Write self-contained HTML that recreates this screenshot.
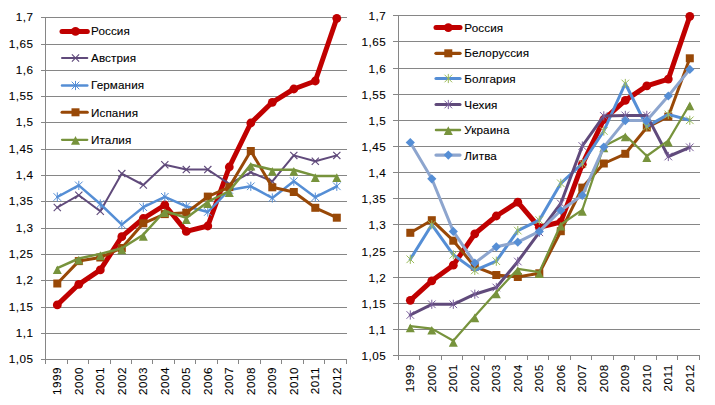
<!DOCTYPE html>
<html><head><meta charset="utf-8">
<style>
html,body{margin:0;padding:0;background:#fff;}
body{width:715px;height:405px;overflow:hidden;position:relative;}
svg{position:absolute;left:0;top:0;display:block;}
text{font-family:"Liberation Sans",sans-serif;font-size:11.7px;fill:#000;letter-spacing:0.5px;stroke:#000;stroke-width:0.1px;}
</style></head><body>
<svg width="715" height="405" viewBox="0 0 715 405">
<rect x="41" y="17" width="306" height="1" fill="#868686"/>
<text x="33.6" y="21.3" text-anchor="end">1,7</text>
<rect x="41" y="44" width="306" height="1" fill="#868686"/>
<text x="33.6" y="48.3" text-anchor="end">1,65</text>
<rect x="41" y="70" width="306" height="1" fill="#868686"/>
<text x="33.6" y="74.3" text-anchor="end">1,6</text>
<rect x="41" y="96" width="306" height="1" fill="#868686"/>
<text x="33.6" y="100.3" text-anchor="end">1,55</text>
<rect x="41" y="122" width="306" height="1" fill="#868686"/>
<text x="33.6" y="126.3" text-anchor="end">1,5</text>
<rect x="41" y="149" width="306" height="1" fill="#868686"/>
<text x="33.6" y="153.3" text-anchor="end">1,45</text>
<rect x="41" y="175" width="306" height="1" fill="#868686"/>
<text x="33.6" y="179.3" text-anchor="end">1,4</text>
<rect x="41" y="201" width="306" height="1" fill="#868686"/>
<text x="33.6" y="205.3" text-anchor="end">1,35</text>
<rect x="41" y="228" width="306" height="1" fill="#868686"/>
<text x="33.6" y="232.3" text-anchor="end">1,3</text>
<rect x="41" y="254" width="306" height="1" fill="#868686"/>
<text x="33.6" y="258.3" text-anchor="end">1,25</text>
<rect x="41" y="280" width="306" height="1" fill="#868686"/>
<text x="33.6" y="284.3" text-anchor="end">1,2</text>
<rect x="41" y="307" width="306" height="1" fill="#868686"/>
<text x="33.6" y="311.3" text-anchor="end">1,15</text>
<rect x="41" y="333" width="306" height="1" fill="#868686"/>
<text x="33.6" y="337.3" text-anchor="end">1,1</text>
<rect x="41" y="359" width="306" height="1" fill="#868686"/>
<text x="33.6" y="363.3" text-anchor="end">1,05</text>
<rect x="45" y="17" width="1" height="343" fill="#868686"/>
<rect x="45" y="359" width="1" height="5" fill="#868686"/>
<rect x="67" y="359" width="1" height="5" fill="#868686"/>
<rect x="88" y="359" width="1" height="5" fill="#868686"/>
<rect x="110" y="359" width="1" height="5" fill="#868686"/>
<rect x="131" y="359" width="1" height="5" fill="#868686"/>
<rect x="152" y="359" width="1" height="5" fill="#868686"/>
<rect x="174" y="359" width="1" height="5" fill="#868686"/>
<rect x="195" y="359" width="1" height="5" fill="#868686"/>
<rect x="217" y="359" width="1" height="5" fill="#868686"/>
<rect x="238" y="359" width="1" height="5" fill="#868686"/>
<rect x="260" y="359" width="1" height="5" fill="#868686"/>
<rect x="281" y="359" width="1" height="5" fill="#868686"/>
<rect x="303" y="359" width="1" height="5" fill="#868686"/>
<rect x="324" y="359" width="1" height="5" fill="#868686"/>
<rect x="346" y="359" width="1" height="5" fill="#868686"/>
<text transform="translate(61,367) rotate(-90)" text-anchor="end">1999</text>
<text transform="translate(82.5,367) rotate(-90)" text-anchor="end">2000</text>
<text transform="translate(104,367) rotate(-90)" text-anchor="end">2001</text>
<text transform="translate(125.5,367) rotate(-90)" text-anchor="end">2002</text>
<text transform="translate(147,367) rotate(-90)" text-anchor="end">2003</text>
<text transform="translate(168.5,367) rotate(-90)" text-anchor="end">2004</text>
<text transform="translate(190,367) rotate(-90)" text-anchor="end">2005</text>
<text transform="translate(211.5,367) rotate(-90)" text-anchor="end">2006</text>
<text transform="translate(233,367) rotate(-90)" text-anchor="end">2007</text>
<text transform="translate(254.5,367) rotate(-90)" text-anchor="end">2008</text>
<text transform="translate(276,367) rotate(-90)" text-anchor="end">2009</text>
<text transform="translate(297.5,367) rotate(-90)" text-anchor="end">2010</text>
<text transform="translate(319,367) rotate(-90)" text-anchor="end">2011</text>
<text transform="translate(340.5,367) rotate(-90)" text-anchor="end">2012</text>
<polyline points="57.3,304.9 78.8,284.3 100.3,269.9 121.8,236.7 143.3,218.5 164.8,205 186.3,231.4 207.8,226 229.3,167 250.8,123 272.3,102.3 293.8,89 315.3,81 336.8,18.3" fill="none" stroke="#C00000" stroke-width="5" stroke-linejoin="round" stroke-linecap="round"/>
<circle cx="57.3" cy="304.9" r="4.4" fill="#C00000"/>
<circle cx="78.8" cy="284.3" r="4.4" fill="#C00000"/>
<circle cx="100.3" cy="269.9" r="4.4" fill="#C00000"/>
<circle cx="121.8" cy="236.7" r="4.4" fill="#C00000"/>
<circle cx="143.3" cy="218.5" r="4.4" fill="#C00000"/>
<circle cx="164.8" cy="205" r="4.4" fill="#C00000"/>
<circle cx="186.3" cy="231.4" r="4.4" fill="#C00000"/>
<circle cx="207.8" cy="226" r="4.4" fill="#C00000"/>
<circle cx="229.3" cy="167" r="4.4" fill="#C00000"/>
<circle cx="250.8" cy="123" r="4.4" fill="#C00000"/>
<circle cx="272.3" cy="102.3" r="4.4" fill="#C00000"/>
<circle cx="293.8" cy="89" r="4.4" fill="#C00000"/>
<circle cx="315.3" cy="81" r="4.4" fill="#C00000"/>
<circle cx="336.8" cy="18.3" r="4.4" fill="#C00000"/>
<polyline points="57.3,207.5 78.8,195.2 100.3,211.3 121.8,173.6 143.3,185 164.8,164.8 186.3,169.6 207.8,169.6 229.3,184 250.8,172.3 272.3,181.4 293.8,155.4 315.3,161.2 336.8,155.4" fill="none" stroke="#604A7B" stroke-width="2" stroke-linejoin="round" stroke-linecap="round"/>
<path d="M53.7 203.9L60.9 211.1M53.7 211.1L60.9 203.9" stroke="#604A7B" stroke-width="1.15" fill="none"/>
<path d="M75.2 191.6L82.4 198.8M75.2 198.8L82.4 191.6" stroke="#604A7B" stroke-width="1.15" fill="none"/>
<path d="M96.7 207.7L103.9 214.9M96.7 214.9L103.9 207.7" stroke="#604A7B" stroke-width="1.15" fill="none"/>
<path d="M118.2 170L125.4 177.2M118.2 177.2L125.4 170" stroke="#604A7B" stroke-width="1.15" fill="none"/>
<path d="M139.7 181.4L146.9 188.6M139.7 188.6L146.9 181.4" stroke="#604A7B" stroke-width="1.15" fill="none"/>
<path d="M161.2 161.2L168.4 168.4M161.2 168.4L168.4 161.2" stroke="#604A7B" stroke-width="1.15" fill="none"/>
<path d="M182.7 166L189.9 173.2M182.7 173.2L189.9 166" stroke="#604A7B" stroke-width="1.15" fill="none"/>
<path d="M204.2 166L211.4 173.2M204.2 173.2L211.4 166" stroke="#604A7B" stroke-width="1.15" fill="none"/>
<path d="M225.7 180.4L232.9 187.6M225.7 187.6L232.9 180.4" stroke="#604A7B" stroke-width="1.15" fill="none"/>
<path d="M247.2 168.7L254.4 175.9M247.2 175.9L254.4 168.7" stroke="#604A7B" stroke-width="1.15" fill="none"/>
<path d="M268.7 177.8L275.9 185M268.7 185L275.9 177.8" stroke="#604A7B" stroke-width="1.15" fill="none"/>
<path d="M290.2 151.8L297.4 159M290.2 159L297.4 151.8" stroke="#604A7B" stroke-width="1.15" fill="none"/>
<path d="M311.7 157.6L318.9 164.8M311.7 164.8L318.9 157.6" stroke="#604A7B" stroke-width="1.15" fill="none"/>
<path d="M333.2 151.8L340.4 159M333.2 159L340.4 151.8" stroke="#604A7B" stroke-width="1.15" fill="none"/>
<polyline points="57.3,197 78.8,185.4 100.3,204 121.8,224.6 143.3,207.2 164.8,196.8 186.3,206.3 207.8,212 229.3,190 250.8,186.3 272.3,198 293.8,181.2 315.3,197.2 336.8,186.3" fill="none" stroke="#558ED5" stroke-width="2.5" stroke-linejoin="round" stroke-linecap="round"/>
<path d="M53.5 193.2L61.1 200.8M53.5 200.8L61.1 193.2M57.3 192.4L57.3 201.6" stroke="#558ED5" stroke-width="1.0" fill="none"/>
<path d="M75 181.6L82.6 189.2M75 189.2L82.6 181.6M78.8 180.8L78.8 190" stroke="#558ED5" stroke-width="1.0" fill="none"/>
<path d="M96.5 200.2L104.1 207.8M96.5 207.8L104.1 200.2M100.3 199.4L100.3 208.6" stroke="#558ED5" stroke-width="1.0" fill="none"/>
<path d="M118 220.8L125.6 228.4M118 228.4L125.6 220.8M121.8 220L121.8 229.2" stroke="#558ED5" stroke-width="1.0" fill="none"/>
<path d="M139.5 203.4L147.1 211M139.5 211L147.1 203.4M143.3 202.6L143.3 211.8" stroke="#558ED5" stroke-width="1.0" fill="none"/>
<path d="M161 193L168.6 200.6M161 200.6L168.6 193M164.8 192.2L164.8 201.4" stroke="#558ED5" stroke-width="1.0" fill="none"/>
<path d="M182.5 202.5L190.1 210.1M182.5 210.1L190.1 202.5M186.3 201.7L186.3 210.9" stroke="#558ED5" stroke-width="1.0" fill="none"/>
<path d="M204 208.2L211.6 215.8M204 215.8L211.6 208.2M207.8 207.4L207.8 216.6" stroke="#558ED5" stroke-width="1.0" fill="none"/>
<path d="M225.5 186.2L233.1 193.8M225.5 193.8L233.1 186.2M229.3 185.4L229.3 194.6" stroke="#558ED5" stroke-width="1.0" fill="none"/>
<path d="M247 182.5L254.6 190.1M247 190.1L254.6 182.5M250.8 181.7L250.8 190.9" stroke="#558ED5" stroke-width="1.0" fill="none"/>
<path d="M268.5 194.2L276.1 201.8M268.5 201.8L276.1 194.2M272.3 193.4L272.3 202.6" stroke="#558ED5" stroke-width="1.0" fill="none"/>
<path d="M290 177.4L297.6 185M290 185L297.6 177.4M293.8 176.6L293.8 185.8" stroke="#558ED5" stroke-width="1.0" fill="none"/>
<path d="M311.5 193.4L319.1 201M311.5 201L319.1 193.4M315.3 192.6L315.3 201.8" stroke="#558ED5" stroke-width="1.0" fill="none"/>
<path d="M333 182.5L340.6 190.1M333 190.1L340.6 182.5M336.8 181.7L336.8 190.9" stroke="#558ED5" stroke-width="1.0" fill="none"/>
<polyline points="57.3,283.5 78.8,261.1 100.3,257.5 121.8,248 143.3,223.3 164.8,214.1 186.3,212.7 207.8,196.6 229.3,187.1 250.8,151 272.3,187.3 293.8,192 315.3,207.8 336.8,217.7" fill="none" stroke="#984807" stroke-width="3" stroke-linejoin="round" stroke-linecap="round"/>
<rect x="53.3" y="279.5" width="8" height="8" fill="#984807"/>
<rect x="74.8" y="257.1" width="8" height="8" fill="#984807"/>
<rect x="96.3" y="253.5" width="8" height="8" fill="#984807"/>
<rect x="117.8" y="244" width="8" height="8" fill="#984807"/>
<rect x="139.3" y="219.3" width="8" height="8" fill="#984807"/>
<rect x="160.8" y="210.1" width="8" height="8" fill="#984807"/>
<rect x="182.3" y="208.7" width="8" height="8" fill="#984807"/>
<rect x="203.8" y="192.6" width="8" height="8" fill="#984807"/>
<rect x="225.3" y="183.1" width="8" height="8" fill="#984807"/>
<rect x="246.8" y="147" width="8" height="8" fill="#984807"/>
<rect x="268.3" y="183.3" width="8" height="8" fill="#984807"/>
<rect x="289.8" y="188" width="8" height="8" fill="#984807"/>
<rect x="311.3" y="203.8" width="8" height="8" fill="#984807"/>
<rect x="332.8" y="213.7" width="8" height="8" fill="#984807"/>
<polyline points="57.3,268.1 78.8,258.5 100.3,253.9 121.8,248.3 143.3,234.7 164.8,211 186.3,217.9 207.8,201.9 229.3,191 250.8,164.6 272.3,169.8 293.8,169.7 315.3,175.9 336.8,175.9" fill="none" stroke="#77933C" stroke-width="2.5" stroke-linejoin="round" stroke-linecap="round"/>
<path d="M57.3 265.4L61.8 274.1L52.8 274.1Z" fill="#77933C"/>
<path d="M78.8 255.8L83.3 264.5L74.3 264.5Z" fill="#77933C"/>
<path d="M100.3 251.2L104.8 259.9L95.8 259.9Z" fill="#77933C"/>
<path d="M121.8 245.6L126.3 254.3L117.3 254.3Z" fill="#77933C"/>
<path d="M143.3 232L147.8 240.7L138.8 240.7Z" fill="#77933C"/>
<path d="M164.8 208.3L169.3 217L160.3 217Z" fill="#77933C"/>
<path d="M186.3 215.2L190.8 223.9L181.8 223.9Z" fill="#77933C"/>
<path d="M207.8 199.2L212.3 207.9L203.3 207.9Z" fill="#77933C"/>
<path d="M229.3 188.3L233.8 197L224.8 197Z" fill="#77933C"/>
<path d="M250.8 161.9L255.3 170.6L246.3 170.6Z" fill="#77933C"/>
<path d="M272.3 167.1L276.8 175.8L267.8 175.8Z" fill="#77933C"/>
<path d="M293.8 167L298.3 175.7L289.3 175.7Z" fill="#77933C"/>
<path d="M315.3 173.2L319.8 181.9L310.8 181.9Z" fill="#77933C"/>
<path d="M336.8 173.2L341.3 181.9L332.3 181.9Z" fill="#77933C"/>
<line x1="62" y1="31.4" x2="87.3" y2="31.4" stroke="#C00000" stroke-width="5" stroke-linecap="round"/>
<circle cx="75.5" cy="31.4" r="4.4" fill="#C00000"/>
<text x="91" y="34.9" style="letter-spacing:0.1px">Россия</text>
<line x1="62" y1="58" x2="87.3" y2="58" stroke="#604A7B" stroke-width="2" stroke-linecap="round"/>
<path d="M71.9 54.4L79.1 61.6M71.9 61.6L79.1 54.4" stroke="#604A7B" stroke-width="1.15" fill="none"/>
<text x="91" y="61.6" style="letter-spacing:0.1px">Австрия</text>
<line x1="62" y1="85.5" x2="87.3" y2="85.5" stroke="#558ED5" stroke-width="2.5" stroke-linecap="round"/>
<path d="M71.7 81.7L79.3 89.3M71.7 89.3L79.3 81.7M75.5 80.9L75.5 90.1" stroke="#558ED5" stroke-width="1.0" fill="none"/>
<text x="91" y="89.2" style="letter-spacing:0.1px">Германия</text>
<line x1="62" y1="112.3" x2="87.3" y2="112.3" stroke="#984807" stroke-width="3" stroke-linecap="round"/>
<rect x="71.5" y="108.3" width="8" height="8" fill="#984807"/>
<text x="91" y="116.5" style="letter-spacing:0.1px">Испания</text>
<line x1="62" y1="139.8" x2="87.3" y2="139.8" stroke="#77933C" stroke-width="2.2" stroke-linecap="round"/>
<path d="M75.5 135.9L80 144.8L71 144.8Z" fill="#77933C"/>
<text x="91" y="143.9" style="letter-spacing:0.1px">Италия</text>
<rect x="393" y="15" width="307" height="1" fill="#868686"/>
<text x="386.2" y="20.1" text-anchor="end">1,7</text>
<rect x="393" y="41" width="307" height="1" fill="#868686"/>
<text x="386.2" y="46.1" text-anchor="end">1,65</text>
<rect x="393" y="68" width="307" height="1" fill="#868686"/>
<text x="386.2" y="73.1" text-anchor="end">1,6</text>
<rect x="393" y="94" width="307" height="1" fill="#868686"/>
<text x="386.2" y="99.1" text-anchor="end">1,55</text>
<rect x="393" y="120" width="307" height="1" fill="#868686"/>
<text x="386.2" y="125.1" text-anchor="end">1,5</text>
<rect x="393" y="146" width="307" height="1" fill="#868686"/>
<text x="386.2" y="151.1" text-anchor="end">1,45</text>
<rect x="393" y="172" width="307" height="1" fill="#868686"/>
<text x="386.2" y="177.1" text-anchor="end">1,4</text>
<rect x="393" y="198" width="307" height="1" fill="#868686"/>
<text x="386.2" y="203.1" text-anchor="end">1,35</text>
<rect x="393" y="224" width="307" height="1" fill="#868686"/>
<text x="386.2" y="229.1" text-anchor="end">1,3</text>
<rect x="393" y="251" width="307" height="1" fill="#868686"/>
<text x="386.2" y="256.1" text-anchor="end">1,25</text>
<rect x="393" y="277" width="307" height="1" fill="#868686"/>
<text x="386.2" y="282.1" text-anchor="end">1,2</text>
<rect x="393" y="303" width="307" height="1" fill="#868686"/>
<text x="386.2" y="308.1" text-anchor="end">1,15</text>
<rect x="393" y="329" width="307" height="1" fill="#868686"/>
<text x="386.2" y="334.1" text-anchor="end">1,1</text>
<rect x="393" y="355" width="307" height="1" fill="#868686"/>
<text x="386.2" y="360.1" text-anchor="end">1,05</text>
<rect x="398" y="15" width="1" height="341" fill="#868686"/>
<rect x="398" y="355" width="1" height="5" fill="#868686"/>
<rect x="419" y="355" width="1" height="5" fill="#868686"/>
<rect x="441" y="355" width="1" height="5" fill="#868686"/>
<rect x="462" y="355" width="1" height="5" fill="#868686"/>
<rect x="484" y="355" width="1" height="5" fill="#868686"/>
<rect x="505" y="355" width="1" height="5" fill="#868686"/>
<rect x="527" y="355" width="1" height="5" fill="#868686"/>
<rect x="548" y="355" width="1" height="5" fill="#868686"/>
<rect x="570" y="355" width="1" height="5" fill="#868686"/>
<rect x="591" y="355" width="1" height="5" fill="#868686"/>
<rect x="613" y="355" width="1" height="5" fill="#868686"/>
<rect x="634" y="355" width="1" height="5" fill="#868686"/>
<rect x="656" y="355" width="1" height="5" fill="#868686"/>
<rect x="677" y="355" width="1" height="5" fill="#868686"/>
<rect x="699" y="355" width="1" height="5" fill="#868686"/>
<text transform="translate(414,364.3) rotate(-90)" text-anchor="end">1999</text>
<text transform="translate(435.5,364.3) rotate(-90)" text-anchor="end">2000</text>
<text transform="translate(457,364.3) rotate(-90)" text-anchor="end">2001</text>
<text transform="translate(478.5,364.3) rotate(-90)" text-anchor="end">2002</text>
<text transform="translate(500,364.3) rotate(-90)" text-anchor="end">2003</text>
<text transform="translate(521.5,364.3) rotate(-90)" text-anchor="end">2004</text>
<text transform="translate(543,364.3) rotate(-90)" text-anchor="end">2005</text>
<text transform="translate(564.5,364.3) rotate(-90)" text-anchor="end">2006</text>
<text transform="translate(586,364.3) rotate(-90)" text-anchor="end">2007</text>
<text transform="translate(607.5,364.3) rotate(-90)" text-anchor="end">2008</text>
<text transform="translate(629,364.3) rotate(-90)" text-anchor="end">2009</text>
<text transform="translate(650.5,364.3) rotate(-90)" text-anchor="end">2010</text>
<text transform="translate(672,364.3) rotate(-90)" text-anchor="end">2011</text>
<text transform="translate(693.5,364.3) rotate(-90)" text-anchor="end">2012</text>
<polyline points="410.3,300.3 431.8,280.8 453.3,265.2 474.8,233.8 496.3,216 517.8,202.2 539.3,227.3 560.8,222 582.3,164.3 603.8,119.5 625.3,100.4 646.8,85.9 668.3,79.1 689.8,16.3" fill="none" stroke="#C00000" stroke-width="5" stroke-linejoin="round" stroke-linecap="round"/>
<circle cx="410.3" cy="300.3" r="4.4" fill="#C00000"/>
<circle cx="431.8" cy="280.8" r="4.4" fill="#C00000"/>
<circle cx="453.3" cy="265.2" r="4.4" fill="#C00000"/>
<circle cx="474.8" cy="233.8" r="4.4" fill="#C00000"/>
<circle cx="496.3" cy="216" r="4.4" fill="#C00000"/>
<circle cx="517.8" cy="202.2" r="4.4" fill="#C00000"/>
<circle cx="539.3" cy="227.3" r="4.4" fill="#C00000"/>
<circle cx="560.8" cy="222" r="4.4" fill="#C00000"/>
<circle cx="582.3" cy="164.3" r="4.4" fill="#C00000"/>
<circle cx="603.8" cy="119.5" r="4.4" fill="#C00000"/>
<circle cx="625.3" cy="100.4" r="4.4" fill="#C00000"/>
<circle cx="646.8" cy="85.9" r="4.4" fill="#C00000"/>
<circle cx="668.3" cy="79.1" r="4.4" fill="#C00000"/>
<circle cx="689.8" cy="16.3" r="4.4" fill="#C00000"/>
<polyline points="410.3,232.8 431.8,220.2 453.3,240.7 474.8,266.7 496.3,275 517.8,277 539.3,273.3 560.8,231.2 582.3,187.6 603.8,163.5 625.3,153.8 646.8,127.5 668.3,116.6 689.8,58.3" fill="none" stroke="#984807" stroke-width="3" stroke-linejoin="round" stroke-linecap="round"/>
<rect x="406.3" y="228.8" width="8" height="8" fill="#984807"/>
<rect x="427.8" y="216.2" width="8" height="8" fill="#984807"/>
<rect x="449.3" y="236.7" width="8" height="8" fill="#984807"/>
<rect x="470.8" y="262.7" width="8" height="8" fill="#984807"/>
<rect x="492.3" y="271" width="8" height="8" fill="#984807"/>
<rect x="513.8" y="273" width="8" height="8" fill="#984807"/>
<rect x="535.3" y="269.3" width="8" height="8" fill="#984807"/>
<rect x="556.8" y="227.2" width="8" height="8" fill="#984807"/>
<rect x="578.3" y="183.6" width="8" height="8" fill="#984807"/>
<rect x="599.8" y="159.5" width="8" height="8" fill="#984807"/>
<rect x="621.3" y="149.8" width="8" height="8" fill="#984807"/>
<rect x="642.8" y="123.5" width="8" height="8" fill="#984807"/>
<rect x="664.3" y="112.6" width="8" height="8" fill="#984807"/>
<rect x="685.8" y="54.3" width="8" height="8" fill="#984807"/>
<polyline points="410.3,259.3 431.8,224.7 453.3,254.8 474.8,270.4 496.3,261.2 517.8,230.6 539.3,220.2 560.8,183.3 582.3,163.5 603.8,131 625.3,83.5 646.8,126.6 668.3,114.4 689.8,120.3" fill="none" stroke="#558ED5" stroke-width="3" stroke-linejoin="round" stroke-linecap="round"/>
<path d="M406.5 255.5L414.1 263.1M406.5 263.1L414.1 255.5M410.3 254.7L410.3 263.9" stroke="#9BBB59" stroke-width="1.0" fill="none"/>
<path d="M428 220.9L435.6 228.5M428 228.5L435.6 220.9M431.8 220.1L431.8 229.3" stroke="#9BBB59" stroke-width="1.0" fill="none"/>
<path d="M449.5 251L457.1 258.6M449.5 258.6L457.1 251M453.3 250.2L453.3 259.4" stroke="#9BBB59" stroke-width="1.0" fill="none"/>
<path d="M471 266.6L478.6 274.2M471 274.2L478.6 266.6M474.8 265.8L474.8 275" stroke="#9BBB59" stroke-width="1.0" fill="none"/>
<path d="M492.5 257.4L500.1 265M492.5 265L500.1 257.4M496.3 256.6L496.3 265.8" stroke="#9BBB59" stroke-width="1.0" fill="none"/>
<path d="M514 226.8L521.6 234.4M514 234.4L521.6 226.8M517.8 226L517.8 235.2" stroke="#9BBB59" stroke-width="1.0" fill="none"/>
<path d="M535.5 216.4L543.1 224M535.5 224L543.1 216.4M539.3 215.6L539.3 224.8" stroke="#9BBB59" stroke-width="1.0" fill="none"/>
<path d="M557 179.5L564.6 187.1M557 187.1L564.6 179.5M560.8 178.7L560.8 187.9" stroke="#9BBB59" stroke-width="1.0" fill="none"/>
<path d="M578.5 159.7L586.1 167.3M578.5 167.3L586.1 159.7M582.3 158.9L582.3 168.1" stroke="#9BBB59" stroke-width="1.0" fill="none"/>
<path d="M600 127.2L607.6 134.8M600 134.8L607.6 127.2M603.8 126.4L603.8 135.6" stroke="#9BBB59" stroke-width="1.0" fill="none"/>
<path d="M621.5 79.7L629.1 87.3M621.5 87.3L629.1 79.7M625.3 78.9L625.3 88.1" stroke="#9BBB59" stroke-width="1.0" fill="none"/>
<path d="M643 122.8L650.6 130.4M643 130.4L650.6 122.8M646.8 122L646.8 131.2" stroke="#9BBB59" stroke-width="1.0" fill="none"/>
<path d="M664.5 110.6L672.1 118.2M664.5 118.2L672.1 110.6M668.3 109.8L668.3 119" stroke="#9BBB59" stroke-width="1.0" fill="none"/>
<path d="M686 116.5L693.6 124.1M686 124.1L693.6 116.5M689.8 115.7L689.8 124.9" stroke="#9BBB59" stroke-width="1.0" fill="none"/>
<polyline points="410.3,315 431.8,304.3 453.3,304.3 474.8,294.2 496.3,287.5 517.8,261.5 539.3,232.3 560.8,203.5 582.3,146 603.8,115.9 625.3,115.4 646.8,115.4 668.3,156.5 689.8,147.3" fill="none" stroke="#604A7B" stroke-width="3" stroke-linejoin="round" stroke-linecap="round"/>
<path d="M406.5 311.2L414.1 318.8M406.5 318.8L414.1 311.2M410.3 310.4L410.3 319.6" stroke="#7A5E9C" stroke-width="1.0" fill="none"/>
<path d="M428 300.5L435.6 308.1M428 308.1L435.6 300.5M431.8 299.7L431.8 308.9" stroke="#7A5E9C" stroke-width="1.0" fill="none"/>
<path d="M449.5 300.5L457.1 308.1M449.5 308.1L457.1 300.5M453.3 299.7L453.3 308.9" stroke="#7A5E9C" stroke-width="1.0" fill="none"/>
<path d="M471 290.4L478.6 298M471 298L478.6 290.4M474.8 289.6L474.8 298.8" stroke="#7A5E9C" stroke-width="1.0" fill="none"/>
<path d="M492.5 283.7L500.1 291.3M492.5 291.3L500.1 283.7M496.3 282.9L496.3 292.1" stroke="#7A5E9C" stroke-width="1.0" fill="none"/>
<path d="M514 257.7L521.6 265.3M514 265.3L521.6 257.7M517.8 256.9L517.8 266.1" stroke="#7A5E9C" stroke-width="1.0" fill="none"/>
<path d="M535.5 228.5L543.1 236.1M535.5 236.1L543.1 228.5M539.3 227.7L539.3 236.9" stroke="#7A5E9C" stroke-width="1.0" fill="none"/>
<path d="M557 199.7L564.6 207.3M557 207.3L564.6 199.7M560.8 198.9L560.8 208.1" stroke="#7A5E9C" stroke-width="1.0" fill="none"/>
<path d="M578.5 142.2L586.1 149.8M578.5 149.8L586.1 142.2M582.3 141.4L582.3 150.6" stroke="#7A5E9C" stroke-width="1.0" fill="none"/>
<path d="M600 112.1L607.6 119.7M600 119.7L607.6 112.1M603.8 111.3L603.8 120.5" stroke="#7A5E9C" stroke-width="1.0" fill="none"/>
<path d="M621.5 111.6L629.1 119.2M621.5 119.2L629.1 111.6M625.3 110.8L625.3 120" stroke="#7A5E9C" stroke-width="1.0" fill="none"/>
<path d="M643 111.6L650.6 119.2M643 119.2L650.6 111.6M646.8 110.8L646.8 120" stroke="#7A5E9C" stroke-width="1.0" fill="none"/>
<path d="M664.5 152.7L672.1 160.3M664.5 160.3L672.1 152.7M668.3 151.9L668.3 161.1" stroke="#7A5E9C" stroke-width="1.0" fill="none"/>
<path d="M686 143.5L693.6 151.1M686 151.1L693.6 143.5M689.8 142.7L689.8 151.9" stroke="#7A5E9C" stroke-width="1.0" fill="none"/>
<polyline points="410.3,326.2 431.8,328.6 453.3,340.7 474.8,316.3 496.3,292.2 517.8,268.9 539.3,272.1 560.8,224.5 582.3,209.8 603.8,146.3 625.3,135.3 646.8,156 668.3,140.6 689.8,104.2" fill="none" stroke="#77933C" stroke-width="2.2" stroke-linejoin="round" stroke-linecap="round"/>
<path d="M410.3 323.5L414.8 332.2L405.8 332.2Z" fill="#77933C"/>
<path d="M431.8 325.9L436.3 334.6L427.3 334.6Z" fill="#77933C"/>
<path d="M453.3 338L457.8 346.7L448.8 346.7Z" fill="#77933C"/>
<path d="M474.8 313.6L479.3 322.3L470.3 322.3Z" fill="#77933C"/>
<path d="M496.3 289.5L500.8 298.2L491.8 298.2Z" fill="#77933C"/>
<path d="M517.8 266.2L522.3 274.9L513.3 274.9Z" fill="#77933C"/>
<path d="M539.3 269.4L543.8 278.1L534.8 278.1Z" fill="#77933C"/>
<path d="M560.8 221.8L565.3 230.5L556.3 230.5Z" fill="#77933C"/>
<path d="M582.3 207.1L586.8 215.8L577.8 215.8Z" fill="#77933C"/>
<path d="M603.8 143.6L608.3 152.3L599.3 152.3Z" fill="#77933C"/>
<path d="M625.3 132.6L629.8 141.3L620.8 141.3Z" fill="#77933C"/>
<path d="M646.8 153.3L651.3 162L642.3 162Z" fill="#77933C"/>
<path d="M668.3 137.9L672.8 146.6L663.8 146.6Z" fill="#77933C"/>
<path d="M689.8 101.5L694.3 110.2L685.3 110.2Z" fill="#77933C"/>
<polyline points="410.3,142.5 431.8,178.8 453.3,231.4 474.8,263 496.3,246.8 517.8,242.2 539.3,231.4 560.8,210.5 582.3,195.3 603.8,147.1 625.3,120.6 646.8,120.6 668.3,96 689.8,69.4" fill="none" stroke="#8DA5CE" stroke-width="3" stroke-linejoin="round" stroke-linecap="round"/>
<path d="M410.3 137.9L414.9 142.5L410.3 147.1L405.7 142.5Z" fill="#558ED5"/>
<path d="M431.8 174.2L436.4 178.8L431.8 183.4L427.2 178.8Z" fill="#558ED5"/>
<path d="M453.3 226.8L457.9 231.4L453.3 236L448.7 231.4Z" fill="#558ED5"/>
<path d="M474.8 258.4L479.4 263L474.8 267.6L470.2 263Z" fill="#558ED5"/>
<path d="M496.3 242.2L500.9 246.8L496.3 251.4L491.7 246.8Z" fill="#558ED5"/>
<path d="M517.8 237.6L522.4 242.2L517.8 246.8L513.2 242.2Z" fill="#558ED5"/>
<path d="M539.3 226.8L543.9 231.4L539.3 236L534.7 231.4Z" fill="#558ED5"/>
<path d="M560.8 205.9L565.4 210.5L560.8 215.1L556.2 210.5Z" fill="#558ED5"/>
<path d="M582.3 190.7L586.9 195.3L582.3 199.9L577.7 195.3Z" fill="#558ED5"/>
<path d="M603.8 142.5L608.4 147.1L603.8 151.7L599.2 147.1Z" fill="#558ED5"/>
<path d="M625.3 116L629.9 120.6L625.3 125.2L620.7 120.6Z" fill="#558ED5"/>
<path d="M646.8 116L651.4 120.6L646.8 125.2L642.2 120.6Z" fill="#558ED5"/>
<path d="M668.3 91.4L672.9 96L668.3 100.6L663.7 96Z" fill="#558ED5"/>
<path d="M689.8 64.8L694.4 69.4L689.8 74L685.2 69.4Z" fill="#558ED5"/>
<line x1="436" y1="27.6" x2="460" y2="27.6" stroke="#C00000" stroke-width="5" stroke-linecap="round"/>
<circle cx="448.3" cy="27.6" r="4.4" fill="#C00000"/>
<text x="464.3" y="31.9" style="letter-spacing:0.1px">Россия</text>
<line x1="436" y1="53.3" x2="460" y2="53.3" stroke="#984807" stroke-width="3.3" stroke-linecap="round"/>
<rect x="444.3" y="49.3" width="8" height="8" fill="#984807"/>
<text x="464.3" y="57.1" style="letter-spacing:0.1px">Белоруссия</text>
<line x1="436" y1="78.5" x2="460" y2="78.5" stroke="#558ED5" stroke-width="3.2" stroke-linecap="round"/>
<path d="M444.5 74.7L452.1 82.3M444.5 82.3L452.1 74.7M448.3 73.9L448.3 83.1" stroke="#9BBB59" stroke-width="1.0" fill="none"/>
<text x="464.3" y="82.9" style="letter-spacing:0.1px">Болгария</text>
<line x1="436" y1="104.5" x2="460" y2="104.5" stroke="#604A7B" stroke-width="3" stroke-linecap="round"/>
<path d="M444.5 100.7L452.1 108.3M444.5 108.3L452.1 100.7M448.3 99.9L448.3 109.1" stroke="#7A5E9C" stroke-width="1.0" fill="none"/>
<text x="464.3" y="109" style="letter-spacing:0.1px">Чехия</text>
<line x1="436" y1="130.1" x2="460" y2="130.1" stroke="#77933C" stroke-width="2.5" stroke-linecap="round"/>
<path d="M448.3 126.2L452.8 135.1L443.8 135.1Z" fill="#77933C"/>
<text x="464.3" y="133.8" style="letter-spacing:0.1px">Украина</text>
<line x1="436" y1="155.1" x2="460" y2="155.1" stroke="#8DA5CE" stroke-width="3.2" stroke-linecap="round"/>
<path d="M448.3 150.5L452.9 155.1L448.3 159.7L443.7 155.1Z" fill="#558ED5"/>
<text x="464.3" y="159.6" style="letter-spacing:0.1px">Литва</text>
</svg>
</body></html>
